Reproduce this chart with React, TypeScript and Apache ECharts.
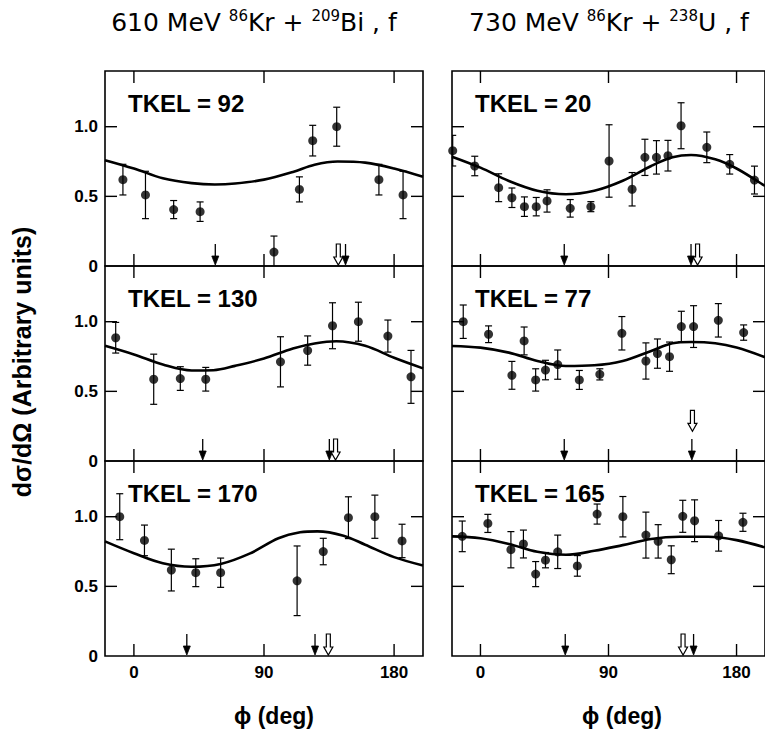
import React, { useEffect, useRef } from "react";
import * as echarts from "echarts";

// ---------- data ----------
const titleLeft = ["610 MeV ", "86", "Kr + ", "209", "Bi , f"];
const titleRight = ["730 MeV ", "86", "Kr + ", "238", "U , f"];
const yTitle = "dσ/dΩ (Arbitrary units)";
const xTitle = "ϕ (deg)";
const xTicks = [0, 90, 180];
const yTicks = [0, 0.5, 1.0];
const yTickMarks = [0.5, 1.0];
const tkel = [92, 130, 170, 20, 77, 165];

// panel 1: 610 MeV, TKEL = 92
const p1Phi = [-7.6, 8.0, 27.5, 45.8, 96.9, 114.5, 123.7, 140.3, 169.5, 186.2];
const p1Val = [0.62, 0.51, 0.405, 0.39, 0.1, 0.55, 0.9, 1.0, 0.62, 0.51];
const p1Err = [0.11, 0.17, 0.065, 0.07, 0.115, 0.09, 0.11, 0.14, 0.11, 0.17];
const c1Phi = [-20, 0, 20, 40, 56, 70, 90, 110, 125, 141, 160, 180, 200];
const c1Val = [0.76, 0.7, 0.63, 0.595, 0.585, 0.592, 0.62, 0.675, 0.727, 0.75, 0.742, 0.7, 0.64];
const a1Filled = [56.3, 146.4];
const a1Hollow = [[141.4, 0]];

// panel 2: 610 MeV, TKEL = 130
const p2Phi = [-12.6, 13.7, 32.1, 49.7, 101.4, 120.2, 137.4, 155.3, 175.7, 191.7];
const p2Val = [0.885, 0.587, 0.592, 0.587, 0.712, 0.793, 0.971, 1.0, 0.897, 0.604];
const p2Err = [0.11, 0.18, 0.085, 0.085, 0.18, 0.105, 0.165, 0.14, 0.115, 0.19];
const c2Phi = [-20, 0, 20, 40, 55, 70, 90, 110, 125, 140, 160, 180, 200];
const c2Val = [0.827, 0.765, 0.693, 0.65, 0.652, 0.683, 0.736, 0.808, 0.844, 0.86, 0.827, 0.741, 0.665];
const a2Filled = [47.6, 135.2];
const a2Hollow = [[139.5, 0]];

// panel 3: 610 MeV, TKEL = 170
const p3Phi = [-9.8, 7.3, 25.9, 42.8, 60, 112.9, 131, 148.4, 166.7, 185.5];
const p3Val = [1.0, 0.83, 0.617, 0.598, 0.598, 0.54, 0.75, 0.993, 1.0, 0.826];
const p3Err = [0.165, 0.11, 0.15, 0.1, 0.105, 0.25, 0.095, 0.15, 0.155, 0.12];
const c3Phi = [-20, 0, 20, 40, 60, 80, 100, 115, 127, 145, 160, 180, 200];
const c3Val = [0.823, 0.738, 0.666, 0.641, 0.661, 0.735, 0.845, 0.888, 0.895, 0.864, 0.799, 0.71, 0.65];
const a3Filled = [36.6, 125.3];
const a3Hollow = [[134.5, 0]];

// panel 4: 730 MeV, TKEL = 20
const p4Phi = [-19.5, -4, 12.8, 22.1, 30.9, 39.2, 46.8, 63.1, 77.6, 90.4, 106.6, 115.6, 123.7, 131.8, 141, 159.1, 175.2, 192.6];
const p4Val = [0.828, 0.718, 0.562, 0.49, 0.426, 0.426, 0.467, 0.414, 0.426, 0.754, 0.551, 0.78, 0.78, 0.792, 1.007, 0.852, 0.73, 0.617];
const p4Err = [0.11, 0.07, 0.1, 0.07, 0.07, 0.066, 0.08, 0.063, 0.036, 0.26, 0.12, 0.13, 0.12, 0.11, 0.165, 0.11, 0.07, 0.1];
const c4Phi = [-20, 0, 20, 40, 60, 80, 100, 120, 135, 148, 165, 180, 197, 200];
const c4Val = [0.785, 0.706, 0.61, 0.54, 0.515, 0.54, 0.612, 0.718, 0.78, 0.797, 0.766, 0.7, 0.594, 0.575];
const a4Filled = [58.9, 148];
const a4Hollow = [[152.6, 0]];

// panel 5: 730 MeV, TKEL = 77
const p5Phi = [-12.1, 5.7, 22.1, 30.7, 38.8, 45.7, 54.3, 69.5, 83.9, 99.4, 116.3, 124.4, 132.9, 141.2, 149.8, 167.2, 185];
const p5Val = [1.0, 0.91, 0.615, 0.862, 0.582, 0.653, 0.692, 0.582, 0.622, 0.917, 0.718, 0.771, 0.749, 0.965, 0.965, 1.01, 0.922];
const p5Err = [0.12, 0.06, 0.1, 0.1, 0.08, 0.07, 0.105, 0.068, 0.04, 0.12, 0.13, 0.105, 0.105, 0.11, 0.15, 0.12, 0.055];
const c5Phi = [-20, 0, 20, 40, 60, 80, 100, 120, 135, 148, 165, 180, 200];
const c5Val = [0.826, 0.814, 0.778, 0.718, 0.682, 0.687, 0.718, 0.79, 0.845, 0.854, 0.845, 0.814, 0.745];
const a5Filled = [58.9, 148.6];
const a5Hollow = [[149, 0.206]];

// panel 6: 730 MeV, TKEL = 165
const p6Phi = [-12.8, 5.2, 21.4, 30.2, 38.8, 45.7, 54.3, 68.1, 82, 100.1, 116.3, 124.9, 134.1, 142.2, 150.5, 167.4, 184.5];
const p6Val = [0.859, 0.952, 0.763, 0.804, 0.588, 0.688, 0.748, 0.647, 1.019, 1.0, 0.868, 0.823, 0.691, 1.003, 0.971, 0.863, 0.96];
const p6Err = [0.11, 0.065, 0.13, 0.1, 0.09, 0.055, 0.12, 0.074, 0.072, 0.145, 0.165, 0.12, 0.1, 0.115, 0.15, 0.11, 0.065];
const c6Phi = [-20, 0, 20, 40, 60, 80, 100, 120, 140, 160, 180, 200];
const c6Val = [0.859, 0.845, 0.804, 0.748, 0.727, 0.755, 0.796, 0.84, 0.856, 0.856, 0.832, 0.78];
const a6Filled = [59.6, 149.8];
const a6Hollow = [[142.4, 0]];

const panels = [
  { phi: p1Phi, val: p1Val, err: p1Err, cPhi: c1Phi, cVal: c1Val, filled: a1Filled, hollow: a1Hollow },
  { phi: p2Phi, val: p2Val, err: p2Err, cPhi: c2Phi, cVal: c2Val, filled: a2Filled, hollow: a2Hollow },
  { phi: p3Phi, val: p3Val, err: p3Err, cPhi: c3Phi, cVal: c3Val, filled: a3Filled, hollow: a3Hollow },
  { phi: p4Phi, val: p4Val, err: p4Err, cPhi: c4Phi, cVal: c4Val, filled: a4Filled, hollow: a4Hollow },
  { phi: p5Phi, val: p5Val, err: p5Err, cPhi: c5Phi, cVal: c5Val, filled: a5Filled, hollow: a5Hollow },
  { phi: p6Phi, val: p6Val, err: p6Err, cPhi: c6Phi, cVal: c6Val, filled: a6Filled, hollow: a6Hollow },
];

// ---------- layout ----------
const FONT = "Liberation Sans";
const PHI_MIN = -20;
const PHI_MAX = 200;
const Y_MIN = 0;
const Y_MAX = 1.4;
const colLeft = [105, 452];
const colWidth = 318;
const rowTop = [71, 266, 461];
const rowHeight = 195;
const TICK = 12;

function buildOption() {
  const grid: any[] = [];
  const xAxis: any[] = [];
  const yAxis: any[] = [];
  const series: any[] = [];
  const graphic: any[] = [];

  panels.forEach((p, i) => {
    const c = i < 3 ? 0 : 1;
    const r = i % 3;
    grid.push({
      left: colLeft[c],
      top: rowTop[r],
      width: colWidth,
      height: rowHeight,
      show: true,
      borderColor: "#000",
      borderWidth: 1.6,
      backgroundColor: "transparent",
      z: 0,
    });
    xAxis.push({
      type: "value",
      gridIndex: i,
      min: PHI_MIN,
      max: PHI_MAX,
      axisLine: { show: false, onZero: false },
      splitLine: { show: false },
      axisTick: { show: false },
      axisLabel: {
        show: r === 2,
        customValues: xTicks,
        color: "#000",
        fontSize: 17,
        fontWeight: "bold",
        fontFamily: FONT,
        margin: 8,
      },
    });
    yAxis.push({
      type: "value",
      gridIndex: i,
      min: Y_MIN,
      max: Y_MAX,
      axisLine: { show: false, onZero: false },
      splitLine: { show: false },
      axisTick: { show: false },
      axisLabel: {
        show: c === 0,
        customValues: yTicks,
        formatter: (v: number) => (v === 0 ? "0" : v.toFixed(1)),
        color: "#000",
        fontSize: 17,
        fontWeight: "bold",
        fontFamily: FONT,
        margin: 7,
      },
    });
    const xi = i;
    const yi = i;

    // inward ticks on top and bottom (phi ticks)
    series.push({
      type: "custom",
      xAxisIndex: xi,
      yAxisIndex: yi,
      clip: false,
      data: xTicks.map((v) => [v, 0.7]),
      renderItem: (params: any, api: any) => {
        const b = api.coord([api.value(0), Y_MIN]);
        const t = api.coord([api.value(0), Y_MAX]);
        return {
          type: "group",
          children: [
            { type: "line", shape: { x1: b[0], y1: b[1], x2: b[0], y2: b[1] - TICK }, style: { stroke: "#000", lineWidth: 1.4 } },
            { type: "line", shape: { x1: t[0], y1: t[1], x2: t[0], y2: t[1] + TICK }, style: { stroke: "#000", lineWidth: 1.4 } },
          ],
        };
      },
      z: 8,
    });
    // inward ticks on left and right (value ticks)
    series.push({
      type: "custom",
      xAxisIndex: xi,
      yAxisIndex: yi,
      clip: false,
      data: yTickMarks.map((v) => [90, v]),
      renderItem: (params: any, api: any) => {
        const l = api.coord([PHI_MIN, api.value(1)]);
        const rr = api.coord([PHI_MAX, api.value(1)]);
        return {
          type: "group",
          children: [
            { type: "line", shape: { x1: l[0], y1: l[1], x2: l[0] + TICK, y2: l[1] }, style: { stroke: "#000", lineWidth: 1.4 } },
            { type: "line", shape: { x1: rr[0], y1: rr[1], x2: rr[0] - TICK, y2: rr[1] }, style: { stroke: "#000", lineWidth: 1.4 } },
          ],
        };
      },
      z: 8,
    });

    // fitted curve
    series.push({
      type: "line",
      xAxisIndex: xi,
      yAxisIndex: yi,
      data: p.cPhi.map((x, k) => [x, p.cVal[k]]),
      smooth: 0.35,
      showSymbol: false,
      symbol: "none",
      clip: true,
      lineStyle: { color: "#000", width: 2.6 },
      z: 3,
    });
    // error bars
    series.push({
      type: "custom",
      xAxisIndex: xi,
      yAxisIndex: yi,
      clip: true,
      data: p.phi.map((x, k) => [x, p.val[k] - p.err[k], p.val[k] + p.err[k]]),
      renderItem: (params: any, api: any) => {
        const lo = api.coord([api.value(0), api.value(1)]);
        const hi = api.coord([api.value(0), api.value(2)]);
        const s = { stroke: "#000", lineWidth: 1.2 };
        const w = 3.5;
        return {
          type: "group",
          children: [
            { type: "line", shape: { x1: lo[0], y1: lo[1], x2: hi[0], y2: hi[1] }, style: s },
            { type: "line", shape: { x1: lo[0] - w, y1: lo[1], x2: lo[0] + w, y2: lo[1] }, style: s },
            { type: "line", shape: { x1: hi[0] - w, y1: hi[1], x2: hi[0] + w, y2: hi[1] }, style: s },
          ],
        };
      },
      z: 4,
    });
    // data points
    series.push({
      type: "scatter",
      xAxisIndex: xi,
      yAxisIndex: yi,
      data: p.phi.map((x, k) => [x, p.val[k]]),
      symbol: "circle",
      symbolSize: 9,
      itemStyle: { color: "#000" },
      clip: false,
      z: 5,
    });
    // filled arrows
    series.push({
      type: "custom",
      xAxisIndex: xi,
      yAxisIndex: yi,
      data: p.filled.map((x) => [x, 0]),
      renderItem: (params: any, api: any) => {
        const pt = api.coord([api.value(0), api.value(1)]);
        const x = pt[0];
        const y = pt[1] - 1;
        return {
          type: "group",
          children: [
            { type: "line", shape: { x1: x, y1: y - 21, x2: x, y2: y - 8 }, style: { stroke: "#000", lineWidth: 1.3 } },
            {
              type: "polygon",
              shape: { points: [[x - 3.5, y - 9], [x + 3.5, y - 9], [x, y]] },
              style: { fill: "#000", stroke: "#000", lineWidth: 0.8 },
            },
          ],
        };
      },
      z: 6,
    });
    // hollow arrows
    series.push({
      type: "custom",
      xAxisIndex: xi,
      yAxisIndex: yi,
      data: p.hollow,
      renderItem: (params: any, api: any) => {
        const pt = api.coord([api.value(0), api.value(1)]);
        const x = pt[0];
        const y = pt[1] - 1;
        return {
          type: "polygon",
          shape: {
            points: [
              [x - 2, y - 21],
              [x + 2, y - 21],
              [x + 2, y - 8],
              [x + 4.5, y - 8],
              [x, y],
              [x - 4.5, y - 8],
              [x - 2, y - 8],
            ],
          },
          style: { fill: "#fff", stroke: "#000", lineWidth: 1.2 },
        };
      },
      z: 7,
    });

    graphic.push({
      type: "text",
      x: colLeft[c] + 23,
      y: rowTop[r] + 32,
      style: {
        text: "TKEL = " + tkel[i],
        fontSize: 24,
        fontWeight: "bold",
        fontFamily: FONT,
        fill: "#000",
        align: "left",
        verticalAlign: "middle",
      },
      z: 10,
    });
  });

  const TFONT = "DejaVu Sans";
  const rich = {
    n: { fontSize: 25, fontFamily: TFONT, fill: "#000", lineHeight: 27 },
    s: { fontSize: 15, fontFamily: TFONT, fill: "#000", lineHeight: 15, verticalAlign: "top" },
  };
  const mk = (parts: string[]) =>
    parts.map((t, k) => (k % 2 === 1 ? `{s|${t}}` : `{n|${t}}`)).join("");
  graphic.push({
    type: "text",
    x: 254,
    y: 22,
    style: { text: mk(titleLeft), rich, align: "center", verticalAlign: "middle" },
  });
  graphic.push({
    type: "text",
    x: 609,
    y: 22,
    style: { text: mk(titleRight), rich, align: "center", verticalAlign: "middle" },
  });
  graphic.push({
    type: "text",
    x: 22,
    y: 362,
    rotation: Math.PI / 2,
    style: {
      text: yTitle,
      fontSize: 25,
      fontWeight: "bold",
      fontFamily: FONT,
      fill: "#000",
      align: "center",
      verticalAlign: "middle",
    },
  });
  [274, 622].forEach((cx) => {
    graphic.push({
      type: "text",
      x: cx,
      y: 716,
      style: {
        text: xTitle,
        fontSize: 23,
        fontWeight: "bold",
        fontFamily: FONT,
        fill: "#000",
        align: "center",
        verticalAlign: "middle",
      },
    });
  });

  return {
    animation: false,
    backgroundColor: "#fff",
    textStyle: { fontFamily: FONT },
    grid,
    xAxis,
    yAxis,
    series,
    graphic,
  };
}

export default function App() {
  const ref = useRef<HTMLDivElement>(null);
  useEffect(() => {
    document.body.style.margin = "0";
    if (!ref.current) return;
    const chart = echarts.init(ref.current, null, { renderer: "svg" });
    chart.setOption(buildOption() as any);
    return () => chart.dispose();
  }, []);
  return <div ref={ref} style={{ width: 765, height: 740, background: "#fff" }} />;
}
